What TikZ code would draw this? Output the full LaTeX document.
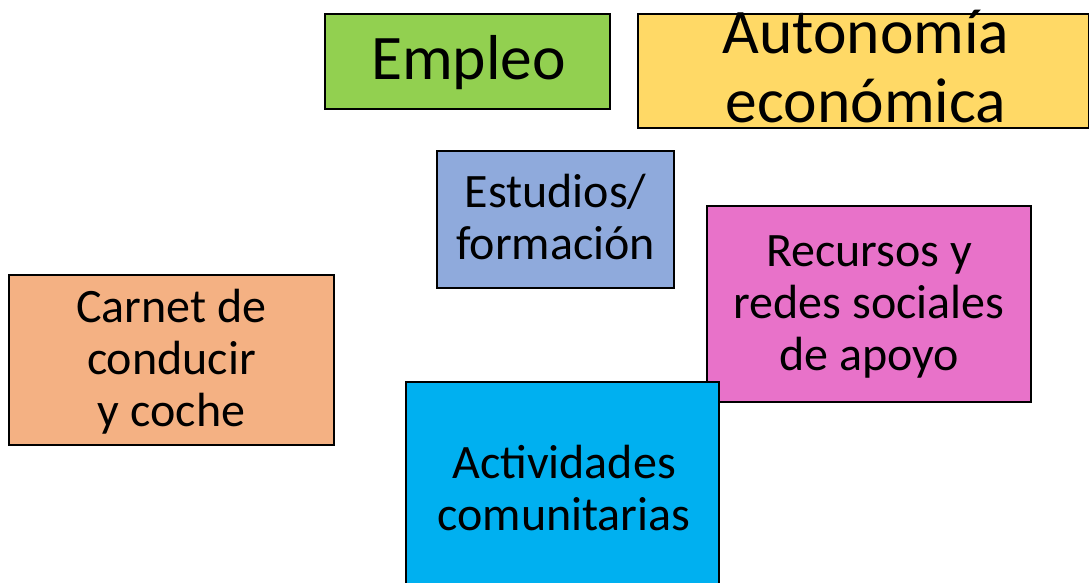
\documentclass[tikz,border=0pt]{standalone}
\usepackage{fontspec}
\setmainfont{Carlito}
\definecolor{cgreen}{HTML}{92D050}
\definecolor{cyellow}{HTML}{FFD966}
\definecolor{cblue}{HTML}{8FAADC}
\definecolor{cpink}{HTML}{E872C9}
\definecolor{corange}{HTML}{F4B183}
\definecolor{ccyan}{HTML}{00B0F0}
\tikzset{
  box/.style={draw=black, line width=2pt, rectangle, inner sep=0pt},
  big/.style={align=center, inner sep=0pt, font=\fontsize{63.5}{69}\selectfont},
  txt/.style={align=center, inner sep=0pt, font=\fontsize{48}{52}\selectfont},
}
\begin{document}
\begin{tikzpicture}[x=1pt,y=-1pt]
\useasboundingbox (0,0) rectangle (1089,583);
% boxes
\node[box, fill=cgreen, minimum width=285pt, minimum height=95pt] (emp) at (467.5,61.5) {};
\node[big, anchor=base] (empT) at (468.5,80) {Empleo};
\node[box, fill=cyellow, minimum width=451pt, minimum height=114pt] (aut) at (863.5,71) {};
\node[big, anchor=base] (autT) at (866,123) {Autonomía\\económica};
\node[box, fill=cblue, minimum width=237pt, minimum height=137pt] (est) at (555.5,219.5) {};
\node[txt, anchor=base] (estT) at (555.5,259) {Estudios/\\formación};
\node[box, fill=cpink, minimum width=324pt, minimum height=196pt] (rec) at (869,304) {};
\node[txt, anchor=base] (recT) at (869,370) {Recursos y\\redes sociales\\de apoyo};
\node[box, fill=corange, minimum width=325pt, minimum height=170pt] (car) at (171.5,360) {};
\node[txt, anchor=base] (carT) at (171.5,426) {Carnet de\\conducir\\y coche};
\node[box, fill=ccyan, minimum width=313pt, minimum height=212pt] (act) at (562.5,488) {};
\node[txt, anchor=base] (actT) at (564,530) {Actividades\\comunitarias};
\end{tikzpicture}
\end{document}
